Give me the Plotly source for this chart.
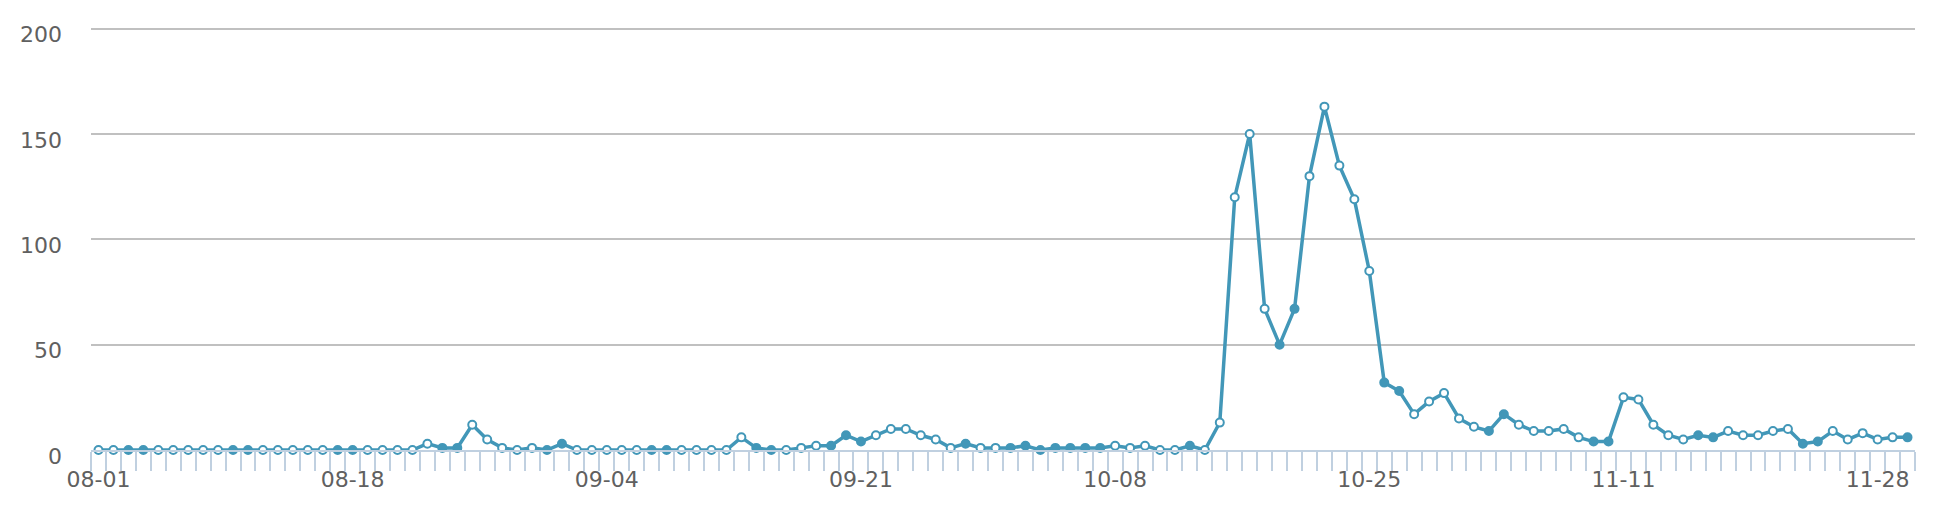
import pandas as pd
import plotly.graph_objects as go

# daily counts, 2013-08-01 .. 2013-11-30
days = list(pd.date_range('2013-08-01', '2013-11-30').strftime('%m-%d'))

counts = [
    0, 0, 0, 0, 0, 0, 0, 0, 0, 0, 0, 0, 0, 0, 0, 0, 0, 0, 0, 0, 0, 0,
    3, 1, 1, 12, 5, 1, 0, 1, 0, 3,
    0, 0, 0, 0, 0, 0, 0, 0, 0, 0, 0, 6, 1, 0, 0, 1, 2,
    2, 7, 4, 7, 10, 10, 7, 5, 1, 3, 1, 1,
    1, 2, 0, 1, 1, 1, 1, 2, 1, 2, 0, 0, 2, 0, 13,
    120, 150, 67, 50, 67, 130, 163, 135, 119, 85, 32, 28, 17, 23, 27, 15,
    11, 9, 17, 12, 9, 9, 10, 6, 4, 4, 25, 24, 12, 7, 5, 7, 6, 9, 7, 7, 9, 10,
    3, 4, 9, 5, 8, 5, 6, 6,
]

# non-working days (weekends + holidays), drawn with filled markers
rest_days = [
    '08-03', '08-04', '08-10', '08-11', '08-17', '08-18', '08-24', '08-25',
    '08-31', '09-01', '09-07', '09-08', '09-14', '09-15', '09-19', '09-20',
    '09-21', '09-28', '10-01', '10-02', '10-03', '10-04', '10-05', '10-06',
    '10-07', '10-13', '10-19', '10-20', '10-26', '10-27', '11-02', '11-03',
    '11-09', '11-10', '11-16', '11-17', '11-23', '11-24', '11-30',
]

line_color = '#4297B8'
font = dict(family='DejaVu Sans', size=22, color='#606060')

fill = [line_color if d in rest_days else '#FFFFFF' for d in days]

fig = go.Figure()
fig.add_trace(go.Scatter(
    x=days,
    y=counts,
    mode='lines+markers',
    line=dict(color=line_color, width=3.5),
    marker=dict(size=8, color=fill, line=dict(color=line_color, width=2)),
    cliponaxis=False,
    showlegend=False,
))

# page body has an 8px margin, so the figure is a bit smaller than the window
fig.update_layout(
    width=1920,
    height=498,
    margin=dict(l=83, r=13, t=19, b=56),
    paper_bgcolor='white',
    plot_bgcolor='white',
    font=font,
)

fig.update_xaxes(
    type='category',
    range=[-0.5, len(days) - 0.5],
    tickmode='array',
    tickvals=days,
    ticktext=[d if i % 17 == 0 else '' for i, d in enumerate(days)],
    tickangle=0,
    tickson='boundaries',
    ticks='outside',
    ticklen=19,
    tickwidth=2,
    tickcolor='#C0D0E0',
    ticklabelstandoff=9,
    showline=True,
    linecolor='#C0D0E0',
    linewidth=2,
    showgrid=False,
    automargin=False,
    tickfont=font,
)

fig.update_yaxes(
    range=[0, 200.8],
    tickvals=[0, 50, 100, 150, 200],
    showgrid=True,
    gridcolor='#C0C0C0',
    gridwidth=2,
    zeroline=False,
    showline=False,
    ticks='',
    ticklabelstandoff=28,
    ticklabelshift=6,
    automargin=False,
    tickfont=font,
)

fig.write_html("out.html")
